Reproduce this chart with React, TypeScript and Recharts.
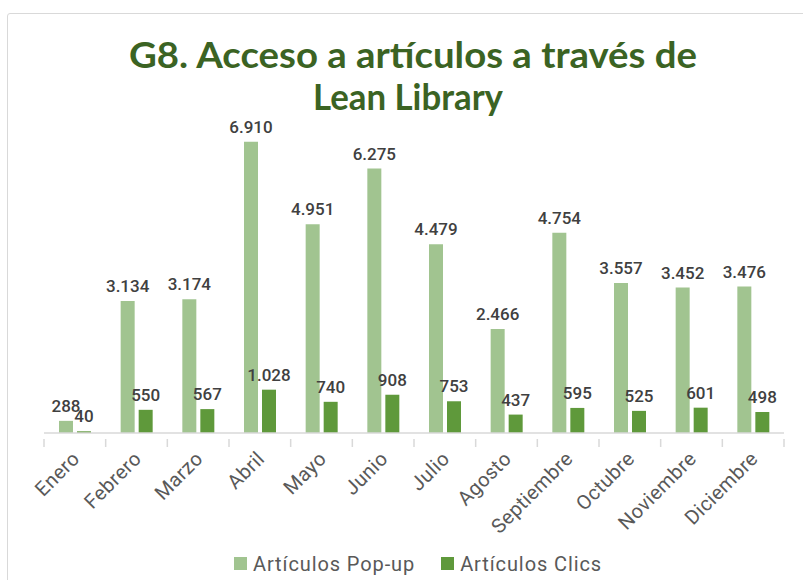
import React from 'react';
import { BarChart, Bar, XAxis, YAxis, LabelList } from 'recharts';

const months = ['Enero', 'Febrero', 'Marzo', 'Abril', 'Mayo', 'Junio', 'Julio', 'Agosto', 'Septiembre', 'Octubre', 'Noviembre', 'Diciembre'];
const popup = [288, 3134, 3174, 6910, 4951, 6275, 4479, 2466, 4754, 3557, 3452, 3476];
const clics = [40, 550, 567, 1028, 740, 908, 753, 437, 595, 525, 601, 498];

const LIGHT = '#a1c490';
const DARK = '#5f993b';
const TITLE = '#3b6323';
const TEXT = '#404040';
const AXIS = '#d9d9d9';

const W = 803;
const H = 580;
const M = { top: 138, right: 19, left: 44, bottom: 0 };
const HALF = (W - M.left - M.right) / months.length / 2;

const data = months.map((m, i) => ({ month: m, popup: popup[i], clics: clics[i] }));

const fmt = (v: any) => Number(v).toLocaleString('de-DE');

const labelStyle = { fill: TEXT, fontSize: 17, fontWeight: 500, fontFamily: 'Roboto, sans-serif' };

const MonthTick = (props: any) => {
  const { x, y, payload, index } = props;
  return (
    <g>
      <line x1={x - HALF} x2={x - HALF} y1={y} y2={y + 8} stroke={AXIS} strokeWidth={1.5} />
      {index === months.length - 1 && (
        <line x1={x + HALF} x2={x + HALF} y1={y} y2={y + 8} stroke={AXIS} strokeWidth={1.5} />
      )}
      <text
        x={x + 6}
        y={y + 21}
        textAnchor="end"
        fill="#595959"
        fontSize={20}
        letterSpacing={0.4}
        fontFamily="Roboto, sans-serif"
        transform={`rotate(-45, ${x + 6}, ${y + 21})`}
      >
        {payload.value}
      </text>
    </g>
  );
};

const Swatch = ({ color, label }: { color: string; label: string }) => (
  <span style={{ display: 'inline-flex', alignItems: 'center', marginRight: 26 }}>
    <span style={{ width: 13, height: 13, background: color, display: 'inline-block', marginRight: 6 }} />
    {label}
  </span>
);

export default function App() {
  return (
    <div style={{ position: 'absolute', left: 0, top: 0, width: W, height: H, overflow: 'hidden', background: '#fff' }}>
      <div style={{ position: 'absolute', left: 7, top: 13, width: 850, height: 650, border: '1.5px solid #d9d9d9', borderRadius: 3 }} />
      <svg style={{ position: 'absolute', left: 0, top: 0 }} width={W} height={130}>
        <text x={129} y={68} textLength={568} lengthAdjust="spacingAndGlyphs"
          fill={TITLE} fontSize={36} fontWeight={700} fontFamily="Lato, sans-serif">
          G8. Acceso a artículos a través de
        </text>
        <text x={313} y={110} textLength={190} lengthAdjust="spacingAndGlyphs"
          fill={TITLE} fontSize={36} fontWeight={700} fontFamily="Lato, sans-serif">
          Lean Library
        </text>
      </svg>
      <div style={{ position: 'absolute', left: 0, top: 0 }}>
        <BarChart width={W} height={H} data={data} margin={M} barSize={14} barGap={4}>
          <YAxis hide domain={[0, 7000]} />
          <XAxis
            dataKey="month"
            height={147}
            interval={0}
            axisLine={{ stroke: AXIS, strokeWidth: 1.5 }}
            tickLine={false}
            tickMargin={0}
            tick={<MonthTick />}
          />
          <Bar dataKey="popup" name="Artículos Pop-up" fill={LIGHT} isAnimationActive={false}>
            <LabelList dataKey="popup" position="top" offset={9} formatter={fmt} style={labelStyle} />
          </Bar>
          <Bar dataKey="clics" name="Artículos Clics" fill={DARK} isAnimationActive={false}>
            <LabelList dataKey="clics" position="top" offset={9} formatter={fmt} style={labelStyle} />
          </Bar>
        </BarChart>
      </div>
      <div
        style={{
          position: 'absolute', left: 234, top: 551, whiteSpace: 'nowrap',
          fontFamily: 'Roboto, sans-serif', fontSize: 20, letterSpacing: 0.9, color: '#595959',
        }}
      >
        <Swatch color={LIGHT} label="Artículos Pop-up" />
        <Swatch color={DARK} label="Artículos Clics" />
      </div>
    </div>
  );
}
